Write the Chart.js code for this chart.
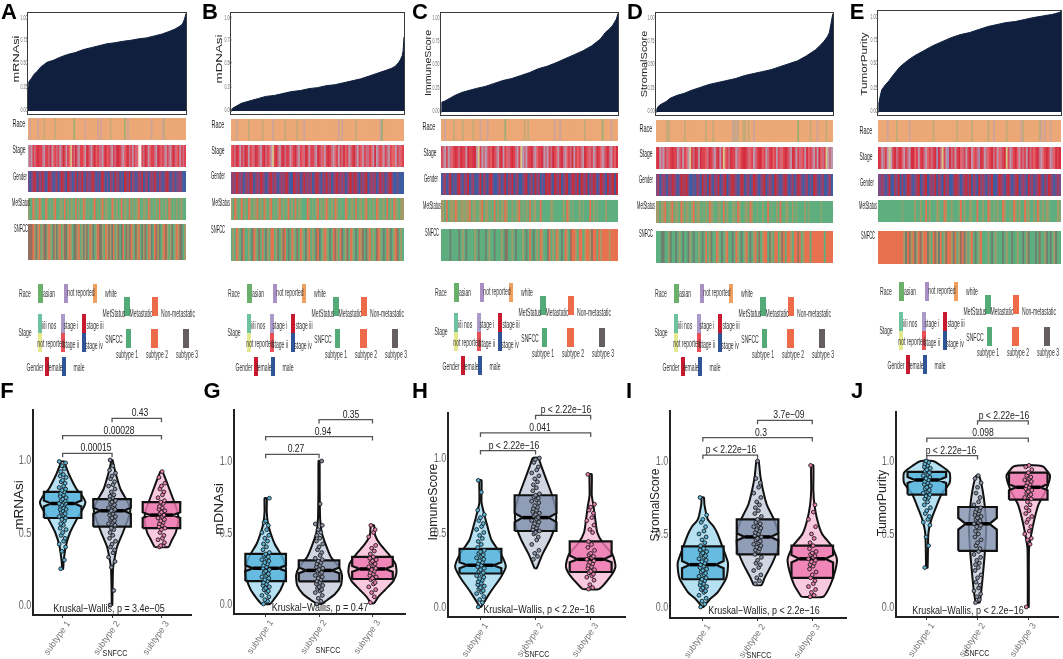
<!DOCTYPE html>
<html>
<head>
<meta charset="utf-8">
<title>Stemness index panels</title>
<script src="https://cdn.jsdelivr.net/npm/chart.js@4"></script>
<style>
  html, body { margin: 0; padding: 0; background: #fff; }
  body { position: relative; width: 1063px; height: 659px; overflow: hidden; font-family: "Liberation Sans", Arial, sans-serif; }
  canvas { position: absolute; }
  .txt { position: absolute; white-space: nowrap; line-height: 1; }
  .sw { position: absolute; filter: blur(.3px); }
</style>
</head>
<body>
<script>
// ---- sorted score curves, rank in percent of samples ----
const rankPct = [0,0.5,1,2,4,6,8,12,16,20,25,30,35,40,45,50,55,60,65,70,75,80,85,90,93,95,97,98,99,99.5,100];
const curveA = [.25,.30,.31,.33,.38,.41,.45,.50,.52,.55,.58,.60,.63,.65,.67,.69,.70,.715,.725,.74,.75,.77,.79,.82,.84,.86,.88,.90,.94,.97,1];
const curveB = [0,.02,.03,.04,.06,.08,.09,.11,.13,.15,.16,.18,.20,.21,.23,.24,.26,.27,.29,.31,.33,.36,.39,.42,.44,.46,.50,.53,.57,.62,.76];
const curveC = [0,.10,.105,.11,.13,.15,.17,.20,.22,.24,.26,.29,.32,.34,.37,.40,.44,.465,.50,.54,.58,.62,.67,.74,.81,.84,.88,.91,.94,.97,1];
const curveD = [0,.03,.05,.07,.09,.11,.14,.17,.19,.22,.25,.28,.30,.32,.34,.37,.39,.41,.43,.46,.49,.52,.57,.63,.68,.72,.77,.81,.91,.96,1];
const curveE = [0,.09,.14,.22,.27,.31,.36,.45,.51,.56,.61,.66,.70,.74,.77,.79,.82,.85,.87,.89,.90,.92,.94,.955,.965,.97,.98,.985,.99,.995,1];
const curveTicks = ['0.00','0.25','0.50','0.75','1.00'];
const curveTickAt = [.02,.25,.5,.73,.96];

// ---- annotation tracks, one letter per stripe (read left to right) ----
const racePal = { o:'#eca877', g:'#c3aa78', p:'#cea39a', G:'#9cae74' };
const stagePal = { r:'#dc4250', c:'#d32f40', m:'#cb6d82', l:'#ba9aae', s:'#e5626b', y:'#d8c98c', w:'#f3eaea', n:'#a48cb4' };
const genderPal = { r:'#c92c35', b:'#3c5ea2', m:'#7d4d86', h:'#a63f5e' };
const metPal = { g:'#5fae7f', o:'#e8714f', m:'#a39a68', t:'#84a672' };
const snfPal = { g:'#5fae7f', o:'#e8714f', d:'#6e7f70', m:'#a89a68', k:'#93705f' };

const raceA = "opoooopooo goooooogoo oooooooooG oooooopooo oooopopooo oogooooooo oGopoooooo oooooooopo ooooopgooo oooooooooo";
const raceB = "ooopoooooo gooooooogo oooopooooo ogoooooogo oopooooooo oooooooooo oopopooooo oogooooooo oooooopGoo oooooooooo";
const raceC = "oopoooogoo oogooooogo oopooopooo ooooooGooo ooooooogog oooooooooo oooopoopoo oooooooooo ogoooooooo oGoooopooo";
const raceD = "ooooooggoo oooooogooo oooooooogo oogooooooo ooopgpgoog gogoopoooo oooooooooo oooooooooo Goooooogoo opoooogooo";
const raceE = "ooooopoooo goooooopoo oooooooooo gooooooooo ooogoooooo ogoooooooo goopoooooo gooooooopg oooooooogp opoopooooo";

const stageA = "lmlrmrcrrm lrrmclsrmr lmcrlrsyrm cmlrrslcrm lrcsrmmlrc srmlrmccrm lsrcmrlrms wwrmcrlsrr mlcrsrmlrm lrcmsrlrmr";
const stageB = "srmcrlrmcr lrsmcrmlrc mrslyrcmlr cmrrlsrcml rsmcrlrrml crmslrcrml srlrmcsrlm rcmlrslrmm rslclmrslr mlrsslrmsr";
const stageC = "rmlrlmsrcr mcrrlcrrcc lyrlmlmrsc rmlrclrsmr crmlrylmlr rcmlsrrclm lrmcrslrcm lsrmclrsrm lcrsmrlmcr slmrcmlrsc";
const stageD = "rclmlrmsrc rrlmrlrsly rmcrlcrrsm crmlrclrys rmcrrlmsrc crmsrlmrcc srlmrcsrlr msrcrmlcrl rmsrlcsrml rlcsmrylml";
const stageE = "crlmrlylrc mrcslrmlcc srlrcmlsrm rcncmyrlnc mrlrcsmrlr clsrmncrlm srcmrlsmrc yrlmrcslrm rlcmrsrcml srcrlmscrc";

const genderA = "mbmhrmbhmr mbmrhmbmhb mrhmbrhmbm rbhmrmbhmm hrmbmbhrmb mbhmbrmhbm brhmrbhmbm hmrbmhbmhm rmbhmbmhrm bmhbmmhmbb";
const genderB = "mhmrhmhbmh mrhbmhmrhm bmhrmhmbmh mhrmbbrhmh bmrmhmhbmr hmbhmrmhbm hrmhmhbmhr mrhmbhmhrb mhmhbmrmhb mhrmbbmbbb";
const genderC = "bmhbmrbmbh rmbhmrbmhb bmrbhmbhrm bbmhbmrbhm rbmhbbmhrb mhbrmhbmbr hrmbrhmrbm hrbmrhmrbr hmrbhmrhbm rhmbrmhrbr";
const genderD = "mhbmhmbhmr hmbmrhhrmb bmbhmbrmhb rmbhmrbmhr bmhrhmbmrh bmhbmrhmbm hrbmhmbrhm bmhrmbmhbm rhmbmhbmbr hmbmhbbmhb";
const genderE = "mmhmbmrbbh mrbhbmrhmb mhrbmhrbmh mrbhmbrmhb bmrhmbmhrm rbhmbrmhmb hmrbbmrhmb hrmbmhrbmh mbrmhbmhrm bhmrhmbmhm";

const metA = "mggomgtomg gomgtgmogg tmgogmgmtg ogmgtomgtg gmogtgmogm tggomgmgto gmtgogmgtm oggmtgomgt gmgogtgmgo mgtgmgtmgg";
const metB = "mgomgtogmg omgmtogmgo tgmogtgmog mgtogmgogm tgggomgtgm ogmgmotgmg omgtggomgt mgogtmgmog tgmgomgtmg ogmgomtgmm";
const metC = "mmgogmmtom gmmtmmogmm gtmogmmgtg ogmgmtomgg mgtmogtgmg ogtmggoggg ggmtgggggm gomgtgggmg tgggogmgtg gggmgggggg";
const metD = "mmgmmogtmo gmtgomgmtg mogmmgtgmg omtggmtgog mggtmgomgg tmgomggtgg mggogtggmg oggtmggmgt ggggmgtggg gggtgggggg";
const metE = "gggggggggg gggtgggggg mggmggogmg ggmtggomgg mgggtogmgg mtggoggmgg omgtgmggom ggtgomgmgg otmggmgotg mgmtggggmt";

const snfA = "kkkomdmogm kdmomgkmdm ogmkdmomgd kmogmdmkgo mdgmokdmgo mkmdogmkgd ogkmdomgkm ogdmkgomdg okmdgmokmg mdgmomkdgm";
const snfB = "gmgomgdogg mgdomgkgog dmgoogmdgm kogdgomgkg omgdmogmgk odgmomgdgo kmgodgmkgo mgdgomkgdm ogmgkomgdg omdgmokgmg";
const snfC = "gggggdgggg dgmgdggggm gdgggdgmgg dgggmgdkgg mgdgggmgdg ogdgmgomgg dogmgomgdg omgkoomgoo gmoomkoogo moooomoooo";
const snfD = "gggddggmdg gdgmgdggdm gdggmgdgog mdggomgdgm oggdgomgdg mogdgmogkg moogdmgoog mkogoomgoo kogmooogoo ooooogoooo";
const snfE = "oooooooooo oooomdokmo dmokmoodmg okmdogmkoo mdogmkodmg mogdgmoggg mgdgmgggdg mggdggmggd gmdgggdgkg gmdgdgmdgg";

// ---- violin outlines [value, half width in category units] ----
const vioF1 = [[.25,.01],[.3,.02],[.4,.06],[.5,.15],[.6,.3],[.67,.42],[.71,.46],[.76,.38],[.8,.28],[.9,.13],[.97,.05],[.99,.03]];
const vioF2 = [[0,.005],[.1,.01],[.25,.02],[.3,.04],[.4,.1],[.5,.22],[.6,.33],[.66,.37],[.72,.3],[.8,.17],[.9,.08],[.97,.03],[1,.01]];
const vioF3 = [[.4,.14],[.44,.2],[.5,.29],[.58,.34],[.64,.33],[.7,.27],[.8,.16],[.88,.07],[.92,.02]];
const vioG1 = [[0,.08],[.03,.15],[.1,.28],[.18,.36],[.25,.38],[.33,.31],[.42,.17],[.5,.09],[.57,.04],[.65,.02],[.74,.02]];
const vioG2 = [[0,.04],[.03,.16],[.07,.3],[.13,.41],[.2,.43],[.26,.37],[.33,.22],[.42,.12],[.5,.05],[.6,.02],[.8,.012],[1,.01]];
const vioG3 = [[.005,.03],[.05,.11],[.1,.24],[.16,.39],[.22,.45],[.28,.43],[.35,.3],[.42,.14],[.48,.05],[.55,.03]];
const vioH1 = [[0,.01],[.1,.18],[.2,.37],[.27,.46],[.35,.38],[.45,.2],[.55,.12],[.62,.07],[.7,.02],[.85,.02]];
const vioH2 = [[.26,.02],[.35,.12],[.45,.26],[.55,.36],[.65,.37],[.75,.3],[.85,.2],[.95,.1],[1,.05]];
const vioH3 = [[.12,.15],[.2,.35],[.27,.45],[.35,.4],[.43,.22],[.5,.12],[.6,.08],[.68,.05],[.75,.02],[.89,.02]];
const vioI1 = [[0,.01],[.05,.12],[.1,.27],[.2,.43],[.3,.46],[.4,.37],[.5,.27],[.55,.2],[.6,.09],[.7,.03],[.75,.02]];
const vioI2 = [[.15,.07],[.2,.13],[.3,.27],[.4,.37],[.5,.38],[.6,.3],[.7,.17],[.8,.1],[.9,.05],[1,.02]];
const vioI3 = [[.07,.2],[.15,.33],[.25,.42],[.33,.45],[.42,.35],[.5,.18],[.6,.09],[.7,.04],[.8,.02],[.97,.02]];
const vioJ1 = [[.27,.015],[.5,.03],[.6,.09],[.7,.2],[.78,.3],[.85,.45],[.92,.45],[.97,.27],[1,.12]];
const vioJ2 = [[.03,.04],[.1,.07],[.2,.1],[.4,.15],[.55,.17],[.7,.14],[.8,.1],[.88,.05],[.9,.02]];
const vioJ3 = [[0,.01],[.4,.015],[.5,.06],[.6,.12],[.7,.2],[.8,.35],[.9,.43],[.96,.3],[.97,.2]];

// ---- boxes: q1, lower notch, median, upper notch, q3 ----
const boxF = [[.60,.68,.70,.72,.78],[.54,.63,.65,.67,.73],[.53,.60,.62,.64,.71]];
const boxG = [[.16,.23,.25,.27,.35],[.158,.215,.235,.255,.305],[.175,.225,.245,.265,.33]];
const boxH = [[.225,.26,.28,.30,.39],[.51,.57,.60,.63,.75],[.235,.30,.32,.345,.44]];
const boxI = [[.19,.265,.29,.315,.415],[.36,.455,.48,.505,.60],[.20,.305,.33,.355,.42]];
const boxJ = [[.77,.85,.87,.89,.925],[.385,.53,.57,.61,.685],[.735,.80,.82,.84,.92]];

// ---- sample points, in hundredths of the score ----
const ptsF1 = [25,31,37,40,42,44,46,48,50,52,53,55,56,58,59,60,61,62,63,64,65,66,66,67,68,69,69,70,70,71,72,72,73,74,75,76,77,78,79,80,81,82,84,85,86,88,89,90,92,94,96,98,99];
const ptsF2 = [0,10,26,30,33,36,38,40,42,44,46,48,50,52,53,55,56,57,58,59,60,61,62,63,64,65,65,66,67,68,69,70,71,72,73,74,75,76,78,80,82,83,85,87,89,91,93,96,100];
const ptsF3 = [40,41,41,43,45,46,48,50,52,53,54,55,56,57,58,59,60,61,62,63,64,65,66,67,68,70,71,72,74,76,78,80,82,84,88,92];
const ptsG1 = [0,2,3,5,6,8,9,10,11,12,13,14,15,16,17,18,19,20,21,22,23,24,25,26,27,28,29,30,31,32,33,34,35,36,38,40,42,44,46,48,50,52,55,57,58,74];
const ptsG2 = [0,2,4,6,8,9,10,11,12,13,14,15,16,17,18,19,20,21,22,23,24,25,26,27,28,29,30,31,32,34,36,38,40,42,44,46,48,50,52,55,56,70,100];
const ptsG3 = [1,5,8,10,12,14,15,17,18,19,20,21,22,23,24,25,26,27,28,29,30,31,32,33,35,37,39,41,47,50,52,55];
const ptsH1 = [0,3,5,7,9,10,11,12,13,14,15,16,17,18,19,20,21,22,23,24,25,26,27,28,29,30,31,32,33,34,35,36,37,38,40,42,44,46,48,50,52,54,56,58,60,62,65,77,85];
const ptsH2 = [32,34,36,38,42,45,47,49,50,51,52,53,54,55,56,57,58,59,60,61,62,63,64,65,66,67,68,70,71,72,73,74,75,76,78,80,82,84,86,88,90,92,94,97,99,100];
const ptsH3 = [12,13,15,18,20,21,22,23,24,25,26,27,28,29,30,31,32,33,34,35,36,38,40,42,44,50,52,55,58,60,63,65,67,69,89];
const ptsI1 = [0,2,4,6,8,10,11,12,13,14,15,16,17,18,19,20,21,22,23,24,25,26,27,28,29,30,31,32,33,34,35,36,37,38,39,40,42,44,46,48,50,52,55,58,60,63,75];
const ptsI2 = [16,18,20,22,25,27,29,30,32,34,36,38,39,40,41,42,43,44,45,46,47,48,49,50,51,52,53,54,55,56,57,58,60,62,64,66,68,70,72,75,78,82,85,88,100];
const ptsI3 = [7,8,10,12,14,16,18,20,22,24,26,28,29,30,31,32,33,34,35,36,37,38,40,42,44,47,50,55,60,65,70,97];
const ptsJ1 = [27,42,48,56,58,60,62,64,66,68,70,72,74,75,76,77,78,79,80,81,82,83,84,85,86,87,88,89,90,91,92,93,94,95,96,97,98,99,100];
const ptsJ2 = [3,5,7,9,11,13,15,17,20,22,25,27,29,30,32,34,36,38,40,42,44,46,48,50,52,54,55,56,57,58,59,60,61,62,63,64,65,66,67,68,70,72,75,78,82,85,88,90];
const ptsJ3 = [0,43,46,47,50,52,55,58,60,62,64,66,68,70,72,74,75,76,77,78,79,80,81,82,83,84,85,86,87,88,89,90,92,94,96,97];
const jitter = [-.04,.035,-.015,.06,-.07,.02,.05,-.03,0,.07,-.05,.015];

// ---- pairwise comparisons: from, to, bar value, text, text position ----
const compF = [[1,2,1.046,'0.00015',1.67],[1,3,1.168,'0.00028',2.14],[2,3,1.287,'0.43',2.57]];
const compG = [[1,2,1.047,'0.27',1.57],[1,3,1.17,'0.94',2.08],[2,3,1.29,'0.35',2.59]];
const compH = [[1,2,1.05,'p < 2.22e\u221216',1.6],[1,3,1.168,'0.041',2.08],[2,3,1.286,'p < 2.22e\u221216',2.55]];
const compI = [[1,2,1.04,'p < 2.22e\u221216',1.51],[1,3,1.16,'0.3',2.06],[2,3,1.278,'3.7e\u221209',2.57]];
const compJ = [[1,2,1.037,'p < 2.22e\u221216',1.47],[1,3,1.156,'0.098',2.1],[2,3,1.275,'p < 2.22e\u221216',2.52]];

const subtypes = ['subtype 1','subtype 2','subtype 3'];
const yTicks = [0, .5, 1];
const vioFill = ['#b6e1f3','#d0d6e2','#f9c9df'];
const boxFill = ['rgba(84,178,221,.82)','rgba(128,143,172,.8)','rgba(238,118,174,.82)'];
const ptFill = ['#5bb8dc','#8a94aa','#ea7fb0'];
const NAVY = '#0f1f3d';

// ---- layout of the top row ----
const topPanels = [
  { letter:'A', lx:9,   title:'mRNAsi',       tx:16,  ty:59, tw:47, tickX:24,  curve:curveA, frame:[27.5,12.5,158,101], tracks:[[raceA,118,22],[stageA,144.5,22],[genderA,171,21],[metA,197.5,22],[snfA,224,36]], labels:[[18.5,123],[19,149],[20,176],[21,202],[21,228]], legDx:0, legDy:0 },
  { letter:'B', lx:210, title:'mDNAsi',       tx:219, ty:59, tw:49, tickX:228, curve:curveB, frame:[231,12.5,173,101], tracks:[[raceB,118.5,22],[stageB,145,22],[genderB,171.5,22],[metB,198,22],[snfB,228,33]], labels:[[218,124],[218,150],[218,175],[221,202],[218,229]], legDx:209, legDy:0 },
  { letter:'C', lx:420, title:'ImmuneScore',  tx:428, ty:63, tw:66, tickX:436, curve:curveC, frame:[441,13,177,102], tracks:[[raceC,119,22],[stageC,146,22],[genderC,172.5,22],[metC,199.5,22],[snfC,229,32]], labels:[[429,126],[430,152],[431,178],[432,205],[432,232]], legDx:416, legDy:-1 },
  { letter:'D', lx:635, title:'StromalScore', tx:644, ty:64, tw:67, tickX:651, curve:curveD, frame:[656,13,177,102], tracks:[[raceD,120,22],[stageD,147,22],[genderD,173.5,22],[metD,200.5,22],[snfD,230.5,32]], labels:[[646,128],[646,153],[646,179],[646,205],[646,233]], legDx:636, legDy:0 },
  { letter:'E', lx:857, title:'TumorPurity',  tx:864, ty:64, tw:63, tickX:874, curve:curveE, frame:[878,11,183,104], tracks:[[raceE,120,22],[stageE,146.5,22],[genderE,173.5,22],[metE,200,22],[snfE,230.5,33]], labels:[[866,130],[866,156],[867,182],[868,205],[868,235]], legDx:861, legDy:-2 }
];
const trackNames = ['Race','Stage','Gender','MetStatus','SNFCC'];
const trackLabelW = [13,13,14,18,14];
const trackPals = [racePal, stagePal, genderPal, metPal, snfPal];

// ---- layout of the legend block (panel A coordinates) ----
const legendText = [
  ['Race',25,293],['asian',49,293],['not reported',81,292],['white',111,293],
  ['MetStatus',114,313],['Metastatic',141,313],['Non-metastatic',178,313],
  ['Stage',25,332],['i/ii nos',49,325],['not reported',51,343],['stage i',71,325],['stage ii',71,344],['stage iii',95,325],['stage iv',94,345],
  ['SNFCC',114,339],['subtype 1',127,354],['subtype 2',157,354],['subtype 3',187,354],
  ['Gender',35,367],['female',55,367],['male',79,367]
];
const legendSwatch = [
  [38,284,4.5,19,'#6ab06a'],[64,284,4,19,'#a98fc4'],[92.5,284,4,19,'#ef9f5e'],
  [124,297,6,19,'#55ab78'],[152,297,6,19,'#ed6a4b'],
  [38,314,4,19,'#6fc2a0'],[38,333,4,19,'#e4e88e'],[61,314,4,19,'#ab9bcb'],[61,333,4,19,'#e84f56'],[82,314,4,19,'#c8192e'],[82,333,4,19,'#2f5597'],
  [125.5,329,5.5,19,'#55ab78'],[151,329,6.5,19,'#ed6a4b'],[183,329,6,19,'#665f60'],
  [44.5,357,4,19,'#c8192e'],[62,357,4,19,'#2f5597']
];

// ---- layout of the bottom row ----
const violinPanels = [
  { letter:'F', lx:7,   title:'mRNAsi',       tx:18,  ty:505, tw:50, axisX:33,  top:410, bottom:615, right:193,  cats:[63,113,163],  y1:460, y0:605, kw:'Kruskal\u2212Wallis, p = 3.4e\u221205', kx:1.94, ky:-.028, xt:[115,653], vio:[vioF1,vioF2,vioF3], box:boxF, pts:[ptsF1,ptsF2,ptsF3], comp:compF },
  { letter:'G', lx:212, title:'mDNAsi',       tx:218, ty:509, tw:52, axisX:234, top:410, bottom:614, right:407,  cats:[266,320,374], y1:461, y0:604, kw:'Kruskal\u2212Wallis, p = 0.47',       kx:2.02, ky:-.03,  xt:[328,650], vio:[vioG1,vioG2,vioG3], box:boxG, pts:[ptsG1,ptsG2,ptsG3], comp:compG },
  { letter:'H', lx:420, title:'ImmuneScore',  tx:432, ty:502, tw:77, axisX:448, top:413, bottom:617, right:627,  cats:[481,537,592], y1:458, y0:607, kw:'Kruskal\u2212Wallis, p < 2.2e\u221216', kx:2.07, ky:-.018, xt:[537,654], vio:[vioH1,vioH2,vioH3], box:boxH, pts:[ptsH1,ptsH2,ptsH3], comp:compH },
  { letter:'I', lx:629, title:'StromalScore', tx:654, ty:505, tw:73, axisX:670, top:411, bottom:618, right:848,  cats:[703,758,814], y1:461, y0:607, kw:'Kruskal\u2212Wallis, p < 2.2e\u221216', kx:2.12, ky:-.03,  xt:[759,655], vio:[vioI1,vioI2,vioI3], box:boxI, pts:[ptsI1,ptsI2,ptsI3], comp:compI },
  { letter:'J', lx:857, title:'TumorPurity',  tx:881, ty:503, tw:66, axisX:896, top:412, bottom:617, right:1060, cats:[927,978,1030],y1:461, y0:607, kw:'Kruskal\u2212Wallis, p < 2.2e\u221216', kx:1.81, ky:-.03,  xt:[977,653], vio:[vioJ1,vioJ2,vioJ3], box:boxJ, pts:[ptsJ1,ptsJ2,ptsJ3], comp:compJ }
];

/* small helpers */
function addText(text, cx, cy, o = {}) {
  const s = document.createElement('span');
  s.className = 'txt';
  s.textContent = text;
  s.style.left = cx + 'px';
  s.style.top = cy + 'px';
  s.style.fontSize = (o.size || 10) + 'px';
  s.style.color = o.color || '#222';
  if (o.bold) s.style.fontWeight = 'bold';
  if (o.blur) s.style.filter = `blur(${o.blur}px)`;
  document.body.appendChild(s);
  const sx = o.width ? o.width / s.offsetWidth : (o.sx || 1);
  s.style.transform = `translate(-50%,-50%) rotate(${o.rot || 0}deg) scaleX(${sx})`;
  return s;
}
function addCanvas(x, y, w, h) {
  const c = document.createElement('canvas');
  c.width = Math.round(w);
  c.height = Math.round(h);
  c.style.left = x + 'px';
  c.style.top = y + 'px';
  document.body.appendChild(c);
  return c;
}
const quiet = { legend: { display: false }, tooltip: { enabled: false } };

function drawCurve(p) {
  const [x, y, w, h] = p.frame;
  const c = addCanvas(x, y, w, h);
  c.style.outline = '1.5px solid #3a3a3a';
  const chart = new Chart(c, {
    type: 'line',
    data: { datasets: [{ data: p.curve.map((v, i) => ({ x: rankPct[i], y: v })), fill: 'origin', backgroundColor: NAVY, borderColor: NAVY, borderWidth: 1, pointRadius: 0, tension: 0 }] },
    options: {
      animation: false, responsive: false, plugins: quiet,
      scales: { x: { type: 'linear', display: false, min: 0, max: 100 }, y: { display: false, min: -.03, max: 1.005 } }
    }
  });
  curveTicks.forEach((t, i) => addText(t, p.tickX, y + chart.scales.y.getPixelForValue(curveTickAt[i]), { size: 7, sx: .5, color: '#666', blur: .25 }));
  addText(p.title, p.tx, p.ty, { size: 9.5, rot: -90, width: p.tw, color: '#222' });
  addText(p.letter, p.lx, 11.5, { size: 22, bold: true, color: '#000' });
}

function drawTrack(seq, pal, x, y, w, h) {
  const letters = seq.replace(/ /g, '').split('');
  const c = addCanvas(x, y, w, h);
  c.style.filter = 'blur(.6px)';
  c.style.background = pal[Object.keys(pal)[0]];
  new Chart(c, {
    type: 'bar',
    data: { labels: letters.map((l, i) => i), datasets: [{ data: letters.map(() => 1), backgroundColor: letters.map(l => pal[l]), categoryPercentage: 1, barPercentage: 1, borderWidth: 0 }] },
    options: {
      animation: false, responsive: false, plugins: quiet,
      scales: { x: { display: false }, y: { display: false, min: 0, max: 1 } }
    }
  });
}

function drawLegend(dx, dy) {
  legendSwatch.forEach(([x, y, w, h, col]) => {
    const d = document.createElement('div');
    d.className = 'sw';
    d.style.cssText = `left:${x + dx}px;top:${y + dy}px;width:${w}px;height:${h}px;background:${col}`;
    document.body.appendChild(d);
  });
  legendText.forEach(([t, x, y]) => addText(t, x + dx, y + dy, { size: 11, sx: .46, color: '#333', blur: .2 }));
}

function drawViolin(p) {
  const back = [];
  p.vio.forEach((outline, g) => {
    const c = g + 1;
    const left = outline.map(([v, hw]) => ({ x: c - hw, y: v }));
    const right = outline.slice().reverse().map(([v, hw]) => ({ x: c + hw, y: v }));
    const shape = left.concat(right, [left[0]]);
    back.push({ data: shape, showLine: true, fill: 'shape', backgroundColor: vioFill[g], borderColor: '#111', borderWidth: 2, pointRadius: 0, tension: .2 });

    const [q1, nl, m, nh, q3] = p.box[g];
    const w = .38, nw = w * .62;
    const boxPts = [[c - w, q1], [c + w, q1], [c + w, nl], [c + nw, m], [c + w, nh], [c + w, q3], [c - w, q3], [c - w, nh], [c - nw, m], [c - w, nl], [c - w, q1]];
    back.push({ data: boxPts.map(([x, y]) => ({ x, y })), showLine: true, fill: 'shape', backgroundColor: boxFill[g], borderColor: '#111', borderWidth: 2.2, pointRadius: 0 });
    back.push({ data: [{ x: c - nw, y: m }, { x: c + nw, y: m }], showLine: true, borderColor: '#000', borderWidth: 3.5, pointRadius: 0 });
    back.push({
      data: p.pts[g].map((v, i) => ({ x: c + jitter[i % jitter.length], y: v / 100 })),
      showLine: false, pointRadius: 1.9, pointBackgroundColor: ptFill[g], pointBorderColor: '#1b1b1b', pointBorderWidth: .9
    });
  });
  p.comp.forEach(([a, b, y]) => {
    back.push({ data: [{ x: a, y: y - .027 }, { x: a, y }, { x: b, y }, { x: b, y: y - .027 }], showLine: true, borderColor: '#555', borderWidth: 1.3, pointRadius: 0 });
  });

  const gap = p.cats[1] - p.cats[0];
  const unit = p.y0 - p.y1;
  const offX = 30, offTop = 5, offRight = 3;
  const c = addCanvas(p.axisX - offX, p.top - offTop, p.right - p.axisX + offX + offRight, 659 - p.top + offTop);
  const chart = new Chart(c, {
    type: 'scatter',
    data: { datasets: back.reverse() },
    options: {
      animation: false, responsive: false, plugins: quiet,
      layout: { padding: { top: offTop, right: offRight, left: 0, bottom: 0 } },
      scales: {
        x: {
          type: 'linear',
          min: 1 - (p.cats[0] - p.axisX) / gap,
          max: 3 + (p.right - p.cats[2]) / gap,
          afterBuildTicks: s => { s.ticks = [1, 2, 3].map(value => ({ value })); },
          afterFit: s => { s.height = 659 - p.bottom; },
          grid: { drawOnChartArea: false, tickLength: 3, color: '#333' },
          border: { color: '#222', width: 2 },
          ticks: { autoSkip: false, minRotation: 55, maxRotation: 55, padding: 1, labelOffset: 6, color: '#777', font: { size: 9, family: 'Liberation Sans' }, callback: v => subtypes[v - 1] }
        },
        y: {
          min: (p.y0 - p.bottom) / unit,
          max: (p.y0 - p.top) / unit,
          afterBuildTicks: s => { s.ticks = yTicks.map(value => ({ value })); },
          afterFit: s => { s.width = offX; },
          grid: { drawOnChartArea: false, drawTicks: false },
          border: { color: '#222', width: 2 },
          ticks: { display: false }
        }
      }
    }
  });
  const left = p.axisX - offX, top = p.top - offTop;
  const sx = chart.scales.x, sy = chart.scales.y;
  yTicks.forEach(v => addText(v.toFixed(1), p.axisX - 8, top + sy.getPixelForValue(v), { size: 12, sx: .75, color: '#666' }));
  p.comp.forEach(([a, b, y, t, tx]) => {
    addText(t, left + sx.getPixelForValue(tx), top + sy.getPixelForValue(y) - 6, { size: 11, sx: .78, color: '#222' });
  });
  addText(p.kw, left + sx.getPixelForValue(p.kx), top + sy.getPixelForValue(p.ky), { size: 11.5, sx: .78, color: '#222' });
  addText('SNFCC', p.xt[0], p.xt[1], { size: 9, sx: .8, color: '#222' });
  addText(p.title, p.tx, p.ty, { size: 13, rot: -90, width: p.tw, color: '#222' });
  addText(p.letter, p.lx, 391, { size: 22, bold: true, color: '#000' });
}

topPanels.forEach(p => {
  drawCurve(p);
  const [x, , w] = p.frame;
  p.tracks.forEach(([seq, y, h], i) => {
    drawTrack(seq, trackPals[i], x, y, w, h);
    addText(trackNames[i], p.labels[i][0], p.labels[i][1], { size: 11, width: trackLabelW[i], color: '#222', blur: .2 });
  });
  drawLegend(p.legDx, p.legDy);
});
violinPanels.forEach(drawViolin);
</script>
</body>
</html>
